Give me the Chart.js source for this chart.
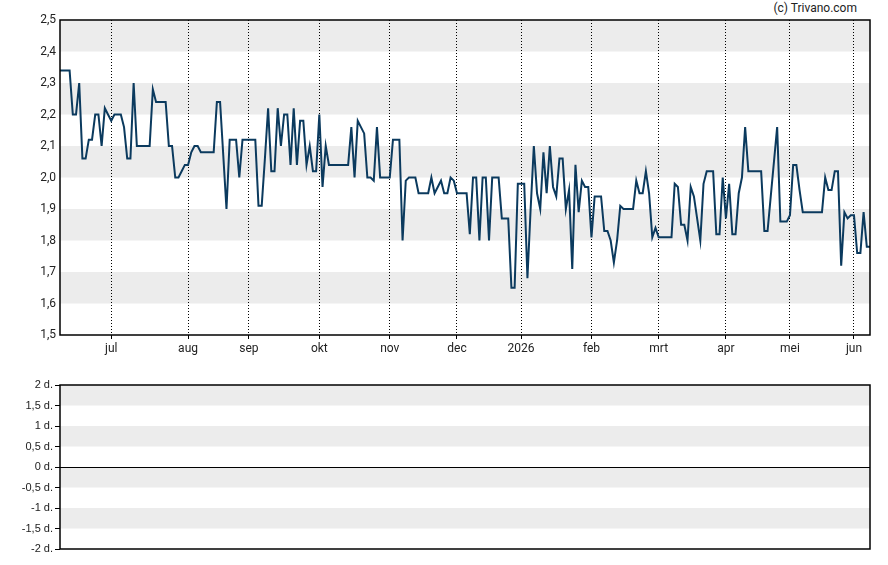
<!DOCTYPE html>
<html>
<head>
<meta charset="utf-8">
<script src="https://cdn.jsdelivr.net/npm/chart.js@4/dist/chart.umd.min.js"></script>
<style>
    body { margin: 0; background: #fff; width: 888px; height: 565px; position: relative; overflow: hidden; }
    #priceChart { position: absolute; left: 0; top: 0; }
    #volumeChart { position: absolute; left: 0; top: 370px; }
    #credit { position: absolute; right: 31px; top: 1px; font: 12px Roboto, sans-serif; color: #222; }
</style>
</head>
<body>
<div id="credit">(c) Trivano.com</div>
<canvas id="priceChart" width="888" height="360"></canvas>
<canvas id="volumeChart" width="888" height="195"></canvas>
<script>
// closing prices, one per trading day (jun 2025 - jun 2026)
var prices = [
    2.34, 2.34, 2.34, 2.34, 2.20, 2.20, 2.30, 2.06, 2.06, 2.12,
    2.12, 2.20, 2.20, 2.10, 2.22, 2.20, 2.18, 2.20, 2.20, 2.20,
    2.16, 2.06, 2.06, 2.30, 2.10, 2.10, 2.10, 2.10, 2.10, 2.28,
    2.24, 2.24, 2.24, 2.24, 2.10, 2.10, 2.00, 2.00, 2.02, 2.04,
    2.04, 2.08, 2.10, 2.10, 2.08, 2.08, 2.08, 2.08, 2.08, 2.24,
    2.24, 2.07, 1.90, 2.12, 2.12, 2.12, 2.00, 2.12, 2.12, 2.12,
    2.12, 2.12, 1.91, 1.91, 2.06, 2.22, 2.02, 2.02, 2.22, 2.10,
    2.20, 2.20, 2.04, 2.22, 2.04, 2.18, 2.18, 2.04, 2.10, 2.02,
    2.02, 2.20, 1.97, 2.10, 2.04, 2.04, 2.04, 2.04, 2.04, 2.04,
    2.04, 2.16, 2.00, 2.18, 2.16, 2.14, 2.00, 2.00, 1.99, 2.16,
    2.00, 2.00, 2.00, 2.00, 2.12, 2.12, 2.12, 1.80, 1.99, 2.00,
    2.00, 2.00, 1.95, 1.95, 1.95, 1.95, 2.00, 1.95, 1.97, 1.99,
    1.95, 1.95, 2.00, 1.99, 1.95, 1.95, 1.95, 1.95, 1.82, 2.00,
    2.00, 1.80, 2.00, 2.00, 1.80, 2.00, 2.00, 2.00, 1.87, 1.87,
    1.87, 1.65, 1.65, 1.98, 1.98, 1.98, 1.68, 1.90, 2.10, 1.95,
    1.90, 2.08, 1.95, 2.10, 1.97, 1.94, 2.06, 2.06, 1.90, 1.96,
    1.71, 2.04, 1.89, 1.99, 1.97, 1.97, 1.81, 1.94, 1.94, 1.94,
    1.83, 1.83, 1.80, 1.73, 1.80, 1.91, 1.90, 1.90, 1.90, 1.90,
    1.99, 1.95, 1.95, 2.02, 1.95, 1.81, 1.84, 1.81, 1.81, 1.81,
    1.81, 1.81, 1.98, 1.97, 1.85, 1.85, 1.80, 1.97, 1.94, 1.87,
    1.80, 1.98, 2.02, 2.02, 2.02, 1.82, 1.82, 2.00, 1.87, 1.98,
    1.82, 1.82, 1.95, 2.00, 2.16, 2.02, 2.02, 2.02, 2.02, 2.02,
    1.83, 1.83, 1.94, 2.05, 2.16, 1.86, 1.86, 1.86, 1.88, 2.04,
    2.04, 1.96, 1.89, 1.89, 1.89, 1.89, 1.89, 1.89, 1.89, 2.00,
    1.96, 1.96, 2.02, 2.02, 1.72, 1.89, 1.87, 1.88, 1.88, 1.76,
    1.76, 1.89, 1.78, 1.78
];

// first trading day of each month (index into prices) and its label
var monthStarts = [16, 40, 59, 81, 103, 124, 144, 166, 187, 208, 228, 248];
var monthLabels = ["jul", "aug", "sep", "okt", "nov", "dec", "2026", "feb", "mrt", "apr", "mei", "jun"];

var priceMin = 1.5, priceMax = 2.5, priceStep = 0.1;
var volumeMin = -2, volumeMax = 2, volumeStep = 0.5;

var lineColor = "#0b3a5e";
var bandColor = "#ececec";
var textColor = "#222222";

// alternating grey bands between y ticks
var bandsPlugin = {
    id: "bands",
    beforeDraw: function (chart) {
        var y = chart.scales.y;
        var area = chart.chartArea;
        var ctx = chart.ctx;
        var values = y.ticks.map(function (t) { return t.value; }).sort(function (a, b) { return b - a; });
        ctx.save();
        ctx.fillStyle = bandColor;
        for (var i = 0; i < values.length - 1; i += 2) {
            var top = y.getPixelForValue(values[i]);
            var bottom = y.getPixelForValue(values[i + 1]);
            ctx.fillRect(area.left, top, area.right - area.left, bottom - top);
        }
        ctx.restore();
    }
};

// black frame round the plot area
var framePlugin = {
    id: "frame",
    afterDraw: function (chart) {
        var a = chart.chartArea;
        var ctx = chart.ctx;
        ctx.save();
        ctx.strokeStyle = "#000";
        ctx.lineWidth = 1.5;
        ctx.strokeRect(a.left, a.top, a.right - a.left, a.bottom - a.top);
        ctx.restore();
    }
};

function commaNumber(v, digits) {
    return v.toFixed(digits).replace(".", ",");
}

function drawPriceChart() {
    new Chart(document.getElementById("priceChart"), {
        type: "line",
        data: {
            datasets: [
                {
                    data: prices.map(function (v, i) { return { x: i, y: v }; }),
                    borderColor: lineColor,
                    borderWidth: 2,
                    pointRadius: 0,
                    tension: 0
                }
            ]
        },
        options: {
            responsive: false,
            animation: false,
            layout: { padding: { left: 0, right: 18, top: 20, bottom: 0 } },
            scales: {
                x: {
                    type: "linear",
                    min: 0,
                    max: prices.length - 1,
                    afterBuildTicks: function (scale) {
                        scale.ticks = monthStarts.map(function (v) { return { value: v }; });
                    },
                    afterFit: function (scale) { scale.height = 25; },
                    grid: {
                        color: "#000",
                        lineWidth: 1,
                        drawTicks: true,
                        tickLength: 4,
                        tickColor: "#000"
                    },
                    border: { display: false, dash: [1, 2] },
                    ticks: {
                        autoSkip: false,
                        maxRotation: 0,
                        padding: 3,
                        color: textColor,
                        font: { family: "Roboto", size: 12 },
                        callback: function (value) {
                            return monthLabels[monthStarts.indexOf(value)];
                        }
                    }
                },
                y: {
                    min: priceMin,
                    max: priceMax,
                    afterFit: function (scale) { scale.width = 60; },
                    grid: { display: false, drawTicks: false },
                    border: { display: false },
                    ticks: {
                        stepSize: priceStep,
                        padding: 4,
                        color: textColor,
                        font: { family: "Roboto", size: 12 },
                        callback: function (value) { return commaNumber(value, 1); }
                    }
                }
            },
            plugins: {
                legend: { display: false },
                tooltip: { enabled: false }
            }
        },
        plugins: [bandsPlugin, framePlugin]
    });
}

function drawVolumeChart() {
    new Chart(document.getElementById("volumeChart"), {
        type: "line",
        data: { datasets: [] },
        options: {
            responsive: false,
            animation: false,
            layout: { padding: { left: 0, right: 18, top: 15, bottom: 16 } },
            scales: {
                x: { type: "linear", display: false, min: 0, max: prices.length - 1 },
                y: {
                    min: volumeMin,
                    max: volumeMax,
                    afterFit: function (scale) { scale.width = 60; },
                    grid: {
                        color: function (ctx) {
                            return ctx.tick && ctx.tick.value === 0 ? "#000" : "rgba(0,0,0,0)";
                        },
                        lineWidth: 1,
                        drawTicks: true,
                        tickLength: 5,
                        tickColor: "#000"
                    },
                    border: { display: false },
                    ticks: {
                        stepSize: volumeStep,
                        padding: 2,
                        color: textColor,
                        font: { family: "Liberation Sans", size: 11 },
                        callback: function (value) {
                            var v = Math.round(value * 10) / 10;
                            return String(v).replace(".", ",") + " d.";
                        }
                    }
                }
            },
            plugins: {
                legend: { display: false },
                tooltip: { enabled: false }
            }
        },
        plugins: [bandsPlugin, framePlugin]
    });
}

drawPriceChart();
drawVolumeChart();
</script>
</body>
</html>
